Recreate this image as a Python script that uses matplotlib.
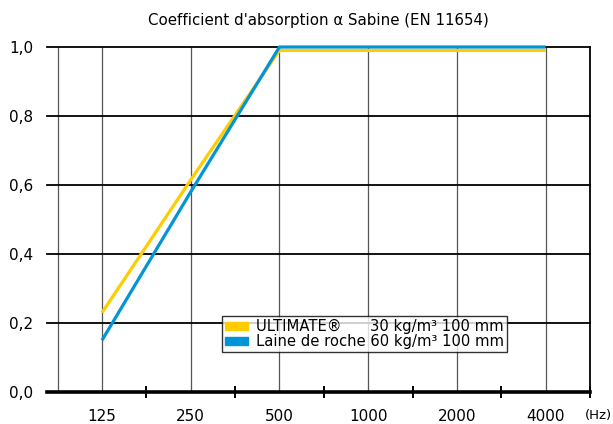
import matplotlib.pyplot as plt
from matplotlib.patches import Patch

# Données
frequences = ['125', '250', '500', '1000', '2000', '4000']
ultimate = [0.23, 0.615, 0.99, 0.99, 0.99, 0.99]
laine_roche = [0.15, 0.58, 1.0, 1.0, 1.0, 1.0]
y_ticks = [0.0, 0.2, 0.4, 0.6, 0.8, 1.0]
y_labels = ['0,0', '0,2', '0,4', '0,6', '0,8', '1,0']

jaune = '#FFCC00'
bleu = '#0095D6'

plt.rcParams['font.family'] = 'DejaVu Sans'
fig = plt.figure(figsize=(6.13, 4.24), dpi=100)
ax = fig.add_axes([47 / 613, 32 / 424, 543 / 613, 345 / 424])

x = list(range(len(frequences)))

# grille verticale
for xv in [-0.5] + x:
    ax.axvline(xv, color='#555555', lw=0.9, zorder=1)
# grille horizontale
for yv in y_ticks[1:]:
    ax.axhline(yv, color='black', lw=1.3, zorder=2, clip_on=False)

ax.plot(x, ultimate, color=jaune, lw=2.3, zorder=3, clip_on=False, solid_capstyle='butt')
ax.plot(x, laine_roche, color=bleu, lw=2.3, zorder=4, clip_on=False, solid_capstyle='butt')

ax.set_xlim(-0.62, 5.5)
ax.set_ylim(0, 1.0)

for s in ['top', 'left']:
    ax.spines[s].set_visible(False)
ax.spines['bottom'].set_linewidth(2.6)
ax.spines['right'].set_linewidth(1.3)

# ticks: marques aux milieux, étiquettes sur les fréquences
ax.set_xticks([i + 0.5 for i in x])
ax.set_xticklabels([])
ax.tick_params(axis='x', which='major', direction='inout', length=9, width=1.4, color='black')
ax.set_xticks(x, minor=True)
ax.set_xticklabels(frequences, minor=True, fontsize=11)
ax.tick_params(axis='x', which='minor', length=0, pad=12)

ax.set_yticks(y_ticks)
ax.set_yticklabels(y_labels, fontsize=11)
ax.tick_params(axis='y', length=0, pad=10)

fig.text(0.998, 8 / 424, '(Hz)', fontsize=9.5, ha='right', va='center')

ax.set_title("Coefficient d'absorption α Sabine (EN 11654)", fontsize=10.8, pad=16)

handles = [Patch(color=jaune), Patch(color=bleu)]
labels = ['ULTIMATE®      30 kg/m³ 100 mm', 'Laine de roche 60 kg/m³ 100 mm']
leg = ax.legend(handles, labels, loc='lower left', bbox_to_anchor=(0.322, 0.115),
                fontsize=10.6, frameon=True, fancybox=False, edgecolor='black',
                handlelength=1.6, handleheight=0.5, handletextpad=0.5,
                borderpad=0.2, labelspacing=0.0, borderaxespad=0)
leg.get_frame().set_linewidth(1.0)
leg.set_zorder(10)

fig.savefig('out.png', dpi=100)
